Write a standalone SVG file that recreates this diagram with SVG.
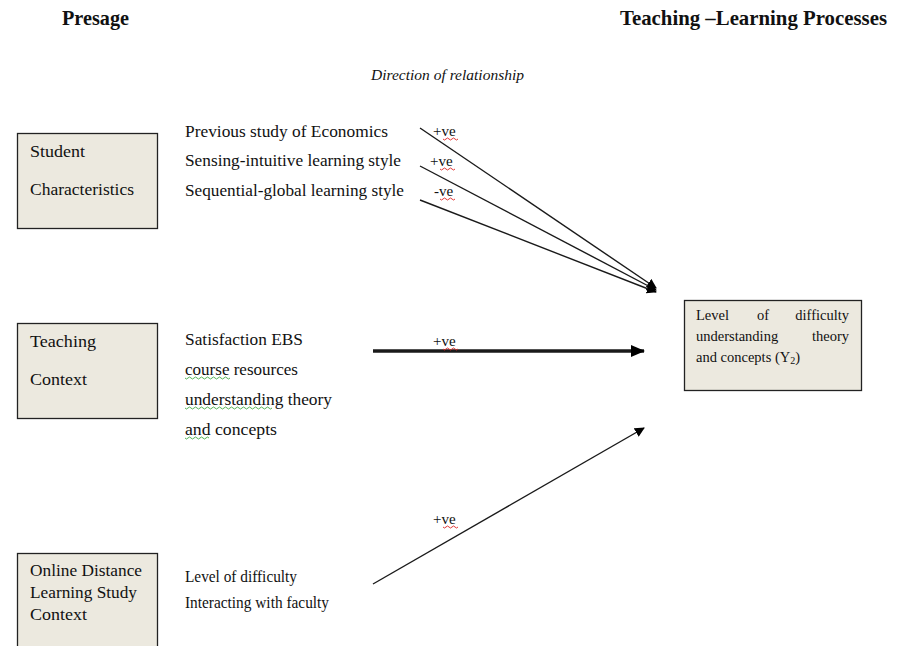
<svg xmlns="http://www.w3.org/2000/svg" width="905" height="646" viewBox="0 0 905 646">
  <defs>
    <style>
      .t { font-family: "Liberation Serif", "Times New Roman", serif; fill: #111; }
      .head { font-size: 21px; font-weight: bold; }
      .lbl { font-size: 16.5px; }
      .sign { font-size: 15px; }
      .box { fill: #ECE9DF; stroke: #222; stroke-width: 1.3; }
      .conn { stroke: #1a1a1a; fill: none; }
      .red { stroke: #d22; stroke-width: 0.9; fill: none; }
      .grn { stroke: #4a4; stroke-width: 0.9; fill: none; }
    </style>
    <marker id="arr" markerWidth="10" markerHeight="10" refX="9" refY="5" orient="auto" markerUnits="userSpaceOnUse">
      <path d="M0,0 L10,5 L0,10 Z" fill="#000"/>
    </marker>
    <marker id="arrT" markerWidth="14" markerHeight="12" refX="13" refY="6" orient="auto" markerUnits="userSpaceOnUse">
      <path d="M0,0 L14,6 L0,12 Z" fill="#000"/>
    </marker>
  </defs>

  <rect width="905" height="646" fill="#fff"/>

  <!-- Column headings -->
  <text class="t head" x="62" y="25" textLength="67" lengthAdjust="spacingAndGlyphs">Presage</text>
  <text class="t head" x="620" y="25" textLength="267" lengthAdjust="spacingAndGlyphs">Teaching –Learning Processes</text>
  <text class="t" x="371" y="80" font-size="15.5" font-style="italic" textLength="153" lengthAdjust="spacingAndGlyphs">Direction of relationship</text>

  <!-- Student characteristics -->
  <g id="student">
    <rect class="box" x="17.5" y="133.5" width="140" height="95"/>
    <text class="t lbl" x="30" y="157" textLength="55" lengthAdjust="spacingAndGlyphs">Student</text>
    <text class="t lbl" x="30" y="195" textLength="104" lengthAdjust="spacingAndGlyphs">Characteristics</text>
  </g>

  <!-- Teaching context -->
  <g id="teaching">
    <rect class="box" x="17.5" y="323.5" width="140" height="95"/>
    <text class="t lbl" x="30" y="347" textLength="66" lengthAdjust="spacingAndGlyphs">Teaching</text>
    <text class="t lbl" x="30" y="385" textLength="57" lengthAdjust="spacingAndGlyphs">Context</text>
  </g>

  <!-- Online distance learning study context -->
  <g id="online">
    <rect class="box" x="17.5" y="553.5" width="140" height="100"/>
    <text class="t lbl" x="30" y="576" textLength="112" lengthAdjust="spacingAndGlyphs">Online Distance</text>
    <text class="t lbl" x="30" y="598" textLength="107" lengthAdjust="spacingAndGlyphs">Learning Study</text>
    <text class="t lbl" x="30" y="620" textLength="57" lengthAdjust="spacingAndGlyphs">Context</text>
  </g>

  <!-- Outcome (justified text) -->
  <g id="outcome">
    <rect class="box" x="684.5" y="300.5" width="177" height="90"/>
    <text class="t" font-size="14.5" x="696" y="320">Level</text>
    <text class="t" font-size="14.5" x="763" y="320" text-anchor="middle">of</text>
    <text class="t" font-size="14.5" x="849" y="320" text-anchor="end">difficulty</text>
    <text class="t" font-size="14.5" x="696" y="341">understanding</text>
    <text class="t" font-size="14.5" x="849" y="341" text-anchor="end">theory</text>
    <text class="t" font-size="14.5" x="696" y="362">and concepts (Y<tspan font-size="10" dy="2">2</tspan><tspan dy="-2">)</tspan></text>
  </g>

  <!-- Variable labels -->
  <g id="student-vars">
    <text class="t lbl" x="185" y="137" textLength="203" lengthAdjust="spacingAndGlyphs">Previous study of Economics</text>
    <text class="t lbl" x="185" y="166" textLength="216" lengthAdjust="spacingAndGlyphs">Sensing-intuitive learning style</text>
    <text class="t lbl" x="185" y="196" textLength="219" lengthAdjust="spacingAndGlyphs">Sequential-global learning style</text>
  </g>
  <g id="teaching-vars">
    <text class="t lbl" x="185" y="345" textLength="118" lengthAdjust="spacingAndGlyphs">Satisfaction EBS</text>
    <text class="t lbl" x="185" y="375" textLength="113" lengthAdjust="spacingAndGlyphs">course resources</text>
    <text class="t lbl" x="185" y="405" textLength="147" lengthAdjust="spacingAndGlyphs">understanding theory</text>
    <text class="t lbl" x="185" y="435" textLength="92" lengthAdjust="spacingAndGlyphs">and concepts</text>
    <path class="grn" d="M185,378 q1.5,2 3,0 t3,0 t3,0 t3,0 t3,0 t3,0 t3,0 t3,0 t3,0 t3,0 t3,0 t3,0 t3,0 t3,0 t3,0"/>
    <path class="grn" d="M185,408 q1.5,2 3,0 t3,0 t3,0 t3,0 t3,0 t3,0 t3,0 t3,0 t3,0 t3,0 t3,0 t3,0 t3,0 t3,0 t3,0 t3,0 t3,0 t3,0 t3,0 t3,0 t3,0 t3,0 t3,0 t3,0 t3,0 t3,0 t3,0 t3,0 t3,0"/>
    <path class="grn" d="M185,438 q1.5,2 3,0 t3,0 t3,0 t3,0 t3,0 t3,0 t3,0 t3,0"/>
  </g>
  <g id="online-vars">
    <text class="t lbl" x="185" y="582" textLength="112" lengthAdjust="spacingAndGlyphs">Level of difficulty</text>
    <text class="t lbl" x="185" y="608" textLength="144" lengthAdjust="spacingAndGlyphs">Interacting with faculty</text>
  </g>

  <!-- Connectors -->
  <g id="connectors">
    <line class="conn" stroke-width="1.4" x1="420" y1="128" x2="656" y2="288" marker-end="url(#arr)"/>
    <line class="conn" stroke-width="1.4" x1="420" y1="166" x2="656" y2="290" marker-end="url(#arr)"/>
    <line class="conn" stroke-width="1.4" x1="420" y1="200" x2="656" y2="292" marker-end="url(#arr)"/>
    <line class="conn" stroke-width="3.5" x1="373" y1="351" x2="644" y2="351" marker-end="url(#arrT)"/>
    <line class="conn" stroke-width="1.4" x1="373" y1="584" x2="644" y2="428" marker-end="url(#arr)"/>
  </g>

  <!-- Direction signs -->
  <g id="signs">
    <text class="t sign" x="433" y="136">+ve</text>
    <text class="t sign" x="430" y="166">+ve</text>
    <text class="t sign" x="434" y="196">-ve</text>
    <text class="t sign" x="433" y="346">+ve</text>
    <text class="t sign" x="433" y="524">+ve</text>
    <path class="red" d="M443,139 q1.5,2 3,0 t3,0 t3,0 t3,0 t3,0"/>
    <path class="red" d="M440,169 q1.5,2 3,0 t3,0 t3,0 t3,0 t3,0"/>
    <path class="red" d="M440,199 q1.5,2 3,0 t3,0 t3,0 t3,0 t3,0"/>
    <path class="red" d="M443,349 q1.5,2 3,0 t3,0 t3,0 t3,0 t3,0"/>
    <path class="red" d="M443,527 q1.5,2 3,0 t3,0 t3,0 t3,0 t3,0"/>
  </g>
</svg>
